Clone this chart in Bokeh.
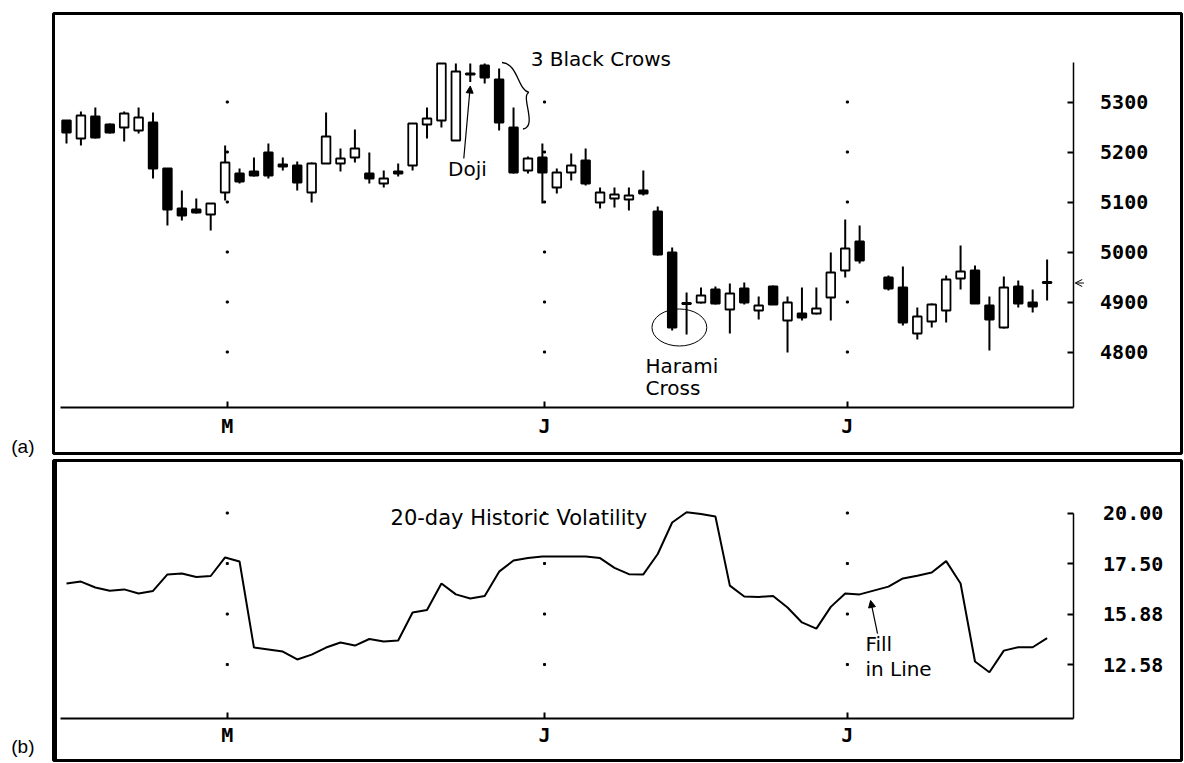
import numpy as np
from bokeh.plotting import figure
from bokeh.models import (Range1d, LinearAxis, FixedTicker, Arrow, NormalHead,
                          OpenHead, ColumnDataSource)
from bokeh.layouts import column
from bokeh.core.properties import value
from bokeh.embed import file_html
from bokeh.resources import INLINE

# ---------------- data ----------------
days = list(range(0, 56)) + list(range(57, 69))
opens = [5263, 5227, 5271, 5255, 5249, 5243, 5259, 5167, 5087, 5085,
         5075, 5119, 5157, 5161, 5199, 5175, 5173, 5119, 5177, 5177,
         5189, 5157, 5137, 5161, 5173, 5255, 5263, 5223, 5357, 5373,
         5345, 5249, 5163, 5189, 5129, 5159, 5183, 5099, 5107, 5105,
         5123, 5081, 4999, 4898, 4899, 4925, 4885, 4927, 4883, 4931,
         4863, 4877, 4877, 4909, 4963, 5021,
         4949, 4929, 4837, 4861, 4883, 4947, 4963, 4893, 4849, 4931,
         4899, 4940]
highs = [5263, 5281, 5289, 5257, 5281, 5289, 5279, 5167, 5123, 5107,
         5097, 5213, 5167, 5189, 5217, 5189, 5181, 5179, 5279, 5207,
         5245, 5199, 5163, 5177, 5257, 5289, 5377, 5377, 5377, 5377,
         5367, 5289, 5191, 5217, 5167, 5197, 5207, 5129, 5129, 5129,
         5163, 5091, 5009, 4919, 4929, 4931, 4937, 4939, 4911, 4933,
         4911, 4929, 4929, 4999, 5065, 5053,
         4953, 4971, 4889, 4897, 4953, 5013, 4973, 4911, 4951, 4943,
         4925, 4985]
lows = [5217, 5213, 5227, 5237, 5221, 5237, 5147, 5053, 5063, 5077,
        5043, 5103, 5137, 5151, 5147, 5163, 5123, 5099, 5177, 5161,
        5179, 5137, 5129, 5151, 5163, 5227, 5249, 5223, 5340, 5337,
        5243, 5157, 5157, 5097, 5117, 5143, 5133, 5087, 5089, 5083,
        5113, 4993, 4843, 4835, 4897, 4895, 4837, 4895, 4865, 4895,
        4799, 4863, 4875, 4863, 4949, 4977,
        4923, 4853, 4825, 4849, 4859, 4925, 4897, 4803, 4847, 4889,
        4879, 4903]
closes = [5239, 5273, 5229, 5239, 5277, 5269, 5167, 5085, 5073, 5079,
          5097, 5179, 5141, 5153, 5153, 5171, 5139, 5177, 5231, 5187,
          5207, 5147, 5147, 5157, 5257, 5267, 5377, 5361, 5355, 5349,
          5259, 5159, 5187, 5159, 5159, 5173, 5137, 5119, 5115, 5113,
          5117, 4995, 4849, 4896, 4913, 4897, 4917, 4899, 4893, 4895,
          4899, 4869, 4887, 4959, 5007, 4983,
          4927, 4859, 4871, 4895, 4945, 4961, 4897, 4865, 4929, 4897,
          4891, 4938]
# 20-day historic volatility (%), one value per trading day
volatility = [16.86, 16.92, 16.73, 16.63, 16.67, 16.54, 16.62, 17.15, 17.18, 17.07,
              17.10, 17.80, 17.60, 13.69, 13.56, 13.43, 12.91, 13.23, 13.69, 14.02,
              13.82, 14.25, 14.08, 14.15, 15.93, 16.01, 16.86, 16.51, 16.38, 16.46,
              17.24, 17.65, 17.77, 17.85, 17.85, 17.85, 17.85, 17.77, 17.36, 17.16,
              17.15, 17.97, 19.53, 20.04, 19.95, 19.83, 16.79, 16.44, 16.43, 16.46,
              16.09, 15.33, 14.93, 16.11, 16.54, 16.51,
              16.76, 17.02, 17.11, 17.21, 17.62, 16.86, 12.78, 12.08, 13.49, 13.71,
              13.71, 14.31]

month_days = [11.15, 33.15, 54.15]
month_labels = ["M", "J", "J"]
price_ticks = [4800, 4900, 5000, 5100, 5200, 5300]
vol_tick_values = [12.58, 15.88, 17.50, 20.00]
vol_tick_labels = ["12.58", "15.88", "17.50", "20.00"]
panel_tags = ["(a)", "(b)"]

# ---------------- helpers ----------------
def vol_to_level(v):
    """Map volatility onto the evenly spaced tick levels 0..3 of the scale."""
    tv = vol_tick_values
    if v <= tv[0]:
        return (v - tv[0]) / (tv[1] - tv[0])
    if v >= tv[-1]:
        return len(tv) - 1 + (v - tv[-1]) / (tv[-1] - tv[-2])
    return float(np.interp(v, tv, np.arange(len(tv))))

vol_levels = [vol_to_level(v) for v in volatility]
level_ticks = list(range(len(vol_tick_values)))

TICK_FONT = "DejaVu Sans Mono"
TEXT_FONT = "DejaVu Sans"
X_AXIS_END = 69.8
X_RANGE = (-0.9015, 77.32)

def style_axis(ax, standoff):
    ax.axis_line_color = "black"
    ax.axis_line_width = 2
    ax.major_tick_line_color = "black"
    ax.major_tick_line_width = 2
    ax.major_tick_in = 6
    ax.major_tick_out = 0
    ax.minor_tick_line_color = None
    ax.major_label_text_font = TICK_FONT
    ax.major_label_text_font_style = "bold"
    ax.major_label_text_font_size = "20px"
    ax.major_label_text_color = "black"
    ax.major_label_standoff = standoff

def tag_axis(pos, tag):
    ax = LinearAxis(ticker=FixedTicker(ticks=[pos]), major_label_overrides={pos: tag})
    ax.axis_line_color = None
    ax.major_tick_line_color = None
    ax.minor_tick_line_color = None
    ax.major_tick_out = 0
    ax.major_tick_in = 0
    ax.major_label_standoff = 19
    ax.major_label_text_font = "Liberation Sans"
    ax.major_label_text_font_size = "19px"
    ax.major_label_text_color = "black"
    return ax

# ---------------- upper panel: candlesticks ----------------
p1 = figure(width=1184, height=457, x_range=Range1d(*X_RANGE),
            y_range=Range1d(4597, 5477), x_axis_type=None, y_axis_type=None,
            toolbar_location=None, output_backend="svg",
            min_border_left=53, min_border_right=3, min_border_top=13,
            min_border_bottom=4)
p1.outline_line_color = "black"
p1.outline_line_width = 3
p1.background_fill_color = "white"
p1.border_fill_color = "white"

x_axis_price = 4690
xa1 = LinearAxis(fixed_location=x_axis_price, bounds=(-0.42, X_AXIS_END),
                 ticker=FixedTicker(ticks=month_days),
                 major_label_overrides=dict(zip(month_days, month_labels)))
style_axis(xa1, 7)
p1.add_layout(xa1, "below")
ya1 = LinearAxis(fixed_location=X_AXIS_END, bounds=(x_axis_price, max(highs) + 3),
                 ticker=FixedTicker(ticks=price_ticks))
style_axis(ya1, 27)
ya1.axis_line_width = 1.5
p1.add_layout(ya1, "right")
p1.add_layout(tag_axis(4609, panel_tags[0]), "left")

# grid dots
gx = [m for m in month_days for _ in price_ticks]
gy = [t for _ in month_days for t in price_ticks]
p1.scatter(gx, gy, size=2, color="black", marker="square")

tops = [max(o, c) for o, c in zip(opens, closes)]
bots = [min(o, c) for o, c in zip(opens, closes)]
fills = ["white" if c > o else "black" for o, c in zip(opens, closes)]
src = ColumnDataSource(dict(x=days, high=highs, low=lows, top=tops, bottom=bots, fill=fills))
p1.segment(x0="x", y0="high", x1="x", y1="low", source=src, line_color="black", line_width=2)
p1.vbar(x="x", width=0.6, top="top", bottom="bottom", source=src,
        fill_color="fill", line_color="black", line_width=1.8)

# annotations: 3 Black Crows
DAY = 1 / 14.42   # one screen pixel in day units
PPX = 2.0          # one screen pixel in price units
c0, c1, c2 = 29, 30, 31
bx = days[c1] + 0.2
byt = highs[c0] + 2
p1.bezier(x0=[bx], y0=[byt], cx0=[bx + 16 * DAY], cy0=[byt - 1 * PPX],
          cx1=[bx + 16 * DAY], cy1=[byt - 28 * PPX], x1=[bx + 27 * DAY], y1=[byt - 30 * PPX],
          line_color="black", line_width=1.3)
p1.bezier(x0=[bx + 27 * DAY], y0=[byt - 30 * PPX], cx0=[bx + 18 * DAY], cy0=[byt - 33 * PPX],
          cx1=[bx + 36 * DAY], cy1=[byt - 64 * PPX], x1=[bx + 21 * DAY], y1=[opens[c2] - 3],
          line_color="black", line_width=1.3)
p1.text(x=[days[c1] + 2.19], y=[byt + 8], text=["3 Black Crows"],
        text_font=value(TEXT_FONT), text_font_size="20px", text_align="left",
        text_baseline="middle", text_color="black")

# Doji
dj = 28
p1.text(x=[days[dj] - 0.2], y=[5167], text=["Doji"], text_font=value(TEXT_FONT),
        text_font_size="20px", text_align="center", text_baseline="middle", text_color="black")
p1.add_layout(Arrow(end=NormalHead(size=7, fill_color="black", line_color="black", line_width=1),
                    x_start=days[dj] - 0.45, y_start=5187, x_end=days[dj], y_end=lows[dj] - 8,
                    line_color="black", line_width=1.2))

# Harami cross
h0, h1 = 42, 43
p1.ellipse(x=[(days[h0] + days[h1]) / 2], y=[(lows[h0] + lows[h1]) / 2 + 10],
           width=3.8, height=74, fill_color=None, line_color="black", line_width=1)
p1.text(x=[days[h0] - 1.85, days[h0] - 1.85], y=[4773, 4728], text=["Harami", "Cross"],
        text_font=value(TEXT_FONT), text_font_size="20px", text_align="left",
        text_baseline="middle", text_color="black")

# last-price marker
p1.add_layout(Arrow(end=OpenHead(size=7, line_width=1, line_color="black"),
                    x_start=X_AXIS_END + 0.75, y_start=closes[-1],
                    x_end=X_AXIS_END + 0.15, y_end=closes[-1],
                    line_color="black", line_width=1))

# ---------------- lower panel: volatility ----------------
LOW_Y = (-1.9, 4.04)
p2 = figure(width=1184, height=306, x_range=p1.x_range,
            y_range=Range1d(*LOW_Y), x_axis_type=None, y_axis_type=None,
            toolbar_location=None, output_backend="svg",
            min_border_left=53, min_border_right=3, min_border_top=3,
            min_border_bottom=3)
p2.outline_line_color = "black"
p2.outline_line_width = 3
p2.background_fill_color = "white"
p2.border_fill_color = "white"

x_axis_level = -1.06
xa2 = LinearAxis(fixed_location=x_axis_level, bounds=(-0.42, X_AXIS_END),
                 ticker=FixedTicker(ticks=month_days),
                 major_label_overrides=dict(zip(month_days, month_labels)))
style_axis(xa2, 5)
p2.add_layout(xa2, "below")
ya2 = LinearAxis(fixed_location=X_AXIS_END, bounds=(x_axis_level, level_ticks[-1]),
                 ticker=FixedTicker(ticks=level_ticks),
                 major_label_overrides=dict(zip(level_ticks, vol_tick_labels)))
style_axis(ya2, 30)
ya2.axis_line_width = 1.5
p2.add_layout(ya2, "right")
p2.add_layout(tag_axis(-1.89, panel_tags[1]), "left")

# thick left border of the lower panel
p2.segment(x0=[X_RANGE[0]], y0=[LOW_Y[0]], x1=[X_RANGE[0]], y1=[LOW_Y[1]],
           line_color="black", line_width=7)

gx2 = [m for m in month_days for _ in level_ticks]
gy2 = [t for _ in month_days for t in level_ticks]
p2.scatter(gx2, gy2, size=2, color="black", marker="square")

p2.line(days, vol_levels, line_color="black", line_width=2)

p2.text(x=[22.47], y=[2.91], text=["20-day Historic Volatility"], text_font=value(TEXT_FONT),
        text_font_size="21px", text_align="left", text_baseline="middle", text_color="black")
p2.text(x=[55.4, 55.4], y=[0.416, -0.08], text=["Fill", "in Line"], text_font=value(TEXT_FONT),
        text_font_size="20px", text_align="left", text_baseline="middle", text_color="black")
fi = days.index(55)
p2.add_layout(Arrow(end=NormalHead(size=7, fill_color="black", line_color="black", line_width=1),
                    x_start=56.24, y_start=0.614, x_end=55.76, y_end=vol_levels[fi] - 0.12,
                    line_color="black", line_width=1.2))

layout = column(p1, p2, spacing=0)
open("out.html", "w").write(file_html(layout, INLINE))
